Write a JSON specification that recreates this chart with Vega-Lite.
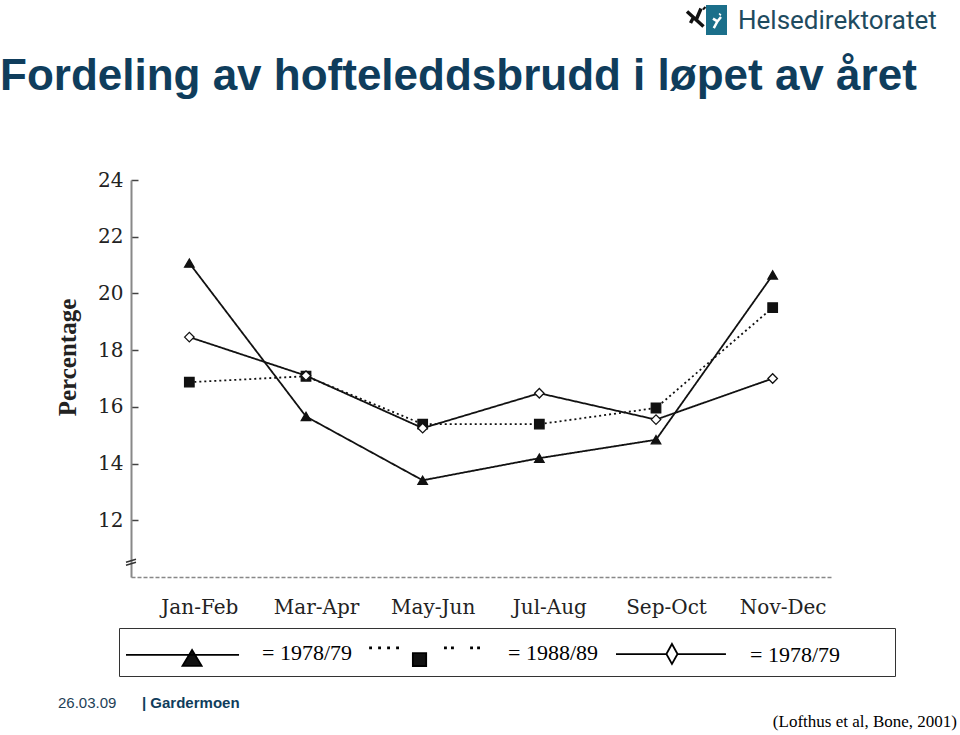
{
  "$schema": "https://vega.github.io/schema/vega-lite/v6.json",
  "width": 700,
  "height": 397,
  "autosize": {"type": "none"},
  "padding": {"left": 131, "top": 180, "right": 129, "bottom": 158},
  "background": "white",
  "config": {"view": {"stroke": null}},
  "title": {
    "text": "Fordeling av hofteleddsbrudd i løpet av året",
    "anchor": "start",
    "frame": "group",
    "font": "Liberation Sans",
    "fontSize": 44,
    "fontWeight": "bold",
    "color": "#0f3d5c",
    "baseline": "alphabetic",
    "dx": -131,
    "dy": 133,
    "offset": 0
  },
  "layer": [
    {
      "data": {
        "values": [
          {"period": "Jan-Feb", "series": "A", "pct": 21.07},
          {"period": "Mar-Apr", "series": "A", "pct": 15.66},
          {"period": "May-Jun", "series": "A", "pct": 13.41},
          {"period": "Jul-Aug", "series": "A", "pct": 14.19},
          {"period": "Sep-Oct", "series": "A", "pct": 14.84},
          {"period": "Nov-Dec", "series": "A", "pct": 20.65},
          {"period": "Jan-Feb", "series": "B", "pct": 16.87},
          {"period": "Mar-Apr", "series": "B", "pct": 17.08},
          {"period": "May-Jun", "series": "B", "pct": 15.39},
          {"period": "Jul-Aug", "series": "B", "pct": 15.39},
          {"period": "Sep-Oct", "series": "B", "pct": 15.96},
          {"period": "Nov-Dec", "series": "B", "pct": 19.5},
          {"period": "Jan-Feb", "series": "C", "pct": 18.46},
          {"period": "Mar-Apr", "series": "C", "pct": 17.1},
          {"period": "May-Jun", "series": "C", "pct": 15.25},
          {"period": "Jul-Aug", "series": "C", "pct": 16.48},
          {"period": "Sep-Oct", "series": "C", "pct": 15.55},
          {"period": "Nov-Dec", "series": "C", "pct": 17.0}
        ]
      },
      "encoding": {
        "x": {
          "field": "period",
          "type": "ordinal",
          "sort": ["Jan-Feb", "Mar-Apr", "May-Jun", "Jul-Aug", "Sep-Oct", "Nov-Dec"],
          "scale": {"type": "point", "padding": 0.5},
          "axis": {
            "title": null,
            "ticks": false,
            "domainColor": "#888",
            "domainWidth": 1.5,
            "domainDash": [4, 2],
            "labelFont": "DejaVu Serif",
            "labelFontSize": 20,
            "labelColor": "#222",
            "labelPadding": 20,
            "labelAngle": 0,
            "labelOffset": 10,
            "grid": false
          }
        },
        "y": {
          "field": "pct",
          "type": "quantitative",
          "scale": {"domain": [10, 24], "nice": false, "zero": false},
          "axis": {
            "title": "Percentage",
            "titleFont": "Liberation Serif",
            "titleFontSize": 25,
            "titleFontWeight": "bold",
            "titleColor": "#222",
            "titleX": -64,
            "titleY": 177,
            "titleAngle": -90,
            "titleAlign": "center",
            "titleBaseline": "middle",
            "values": [12, 14, 16, 18, 20, 22, 24],
            "labelFont": "DejaVu Serif",
            "labelFontSize": 20,
            "labelColor": "#222",
            "labelPadding": 15,
            "domainColor": "#888",
            "domainWidth": 2,
            "tickColor": "#444",
            "tickSize": -7,
            "tickWidth": 1.5,
            "grid": false
          }
        }
      },
      "layer": [
        {
          "mark": {"type": "line", "color": "#111", "strokeWidth": 1.8},
          "encoding": {
            "detail": {"field": "series", "type": "nominal"},
            "strokeDash": {
              "condition": {"test": "datum.series == 'B'", "value": [2, 3]},
              "value": [1, 0]
            }
          }
        },
        {
          "mark": {"type": "point", "filled": true, "stroke": "#111", "strokeWidth": 1.3, "size": 90, "opacity": 1},
          "encoding": {
            "shape": {
              "condition": [
                {"test": "datum.series == 'A'", "value": "triangle-up"},
                {"test": "datum.series == 'B'", "value": "square"}
              ],
              "value": "diamond"
            },
            "fill": {
              "field": "series",
              "type": "nominal",
              "scale": {"domain": ["A", "B", "C"], "range": ["#111", "#111", "white"]},
              "legend": {
                "orient": "none",
                "legendX": -12,
                "legendY": 448,
                "direction": "horizontal",
                "columns": 3,
                "title": null,
                "symbolSize": 1296,
                "labelFont": "Liberation Serif",
                "labelFontSize": 22,
                "labelColor": "black",
                "labelOffset": 99,
                "columnPadding": 13,
                "padding": 6,
                "strokeColor": "#333",
                "labelExpr": "datum.value == 'B' ? '= 1988/89' : datum.value == 'A' ? '= 1978/79' : '= 1978/79\u2800\u2800\u2800'",
                "encoding": {
                  "symbols": {
                    "shape": {"value": {"expr": "datum.value == 'A' ? 'M-1,0.08L5.28,0.08M2.67,-0.19L3.2,0.69L2.14,0.69Z' : datum.value == 'B' ? 'M-1.11,-0.34L-1.05,-0.34L-1.05,-0.28L-1.11,-0.28ZM-0.61,-0.34L-0.55,-0.34L-0.55,-0.28L-0.61,-0.28ZM-0.11,-0.34L-0.05,-0.34L-0.05,-0.28L-0.11,-0.28ZM0.39,-0.34L0.45,-0.34L0.45,-0.28L0.39,-0.28ZM1.27,-0.02L2.01,-0.02L2.01,0.7L1.27,0.7ZM3.05,-0.34L3.11,-0.34L3.11,-0.28L3.05,-0.28ZM3.44,-0.34L3.5,-0.34L3.5,-0.28L3.44,-0.28ZM4.5,-0.34L4.56,-0.34L4.56,-0.28L4.5,-0.28ZM4.89,-0.34L4.95,-0.34L4.95,-0.28L4.89,-0.28Z' : 'M-0.89,-0.08L1.91,-0.08M2.22,-0.64L2.53,-0.08L2.22,0.47L1.91,-0.08ZM2.53,-0.08L5.22,-0.08'"}},
                    "stroke": {"value": "black"},
                    "strokeWidth": {"value": 1.8},
                    "opacity": {"value": 1}
                  }
                }
              }
            }
          }
        }
      ]
    },
    {
      "data": {"values": [{"label": "axis break"}]},
      "mark": {"type": "point", "shape": "M-1,-0.1L1,-0.7M-1,0.5L1,-0.1", "filled": false, "stroke": "#333", "strokeWidth": 1.5, "size": 100, "opacity": 1},
      "encoding": {"x": {"value": 0}, "y": {"datum": 10.5, "type": "quantitative"}}
    },
    {
      "data": {"values": [{"label": "Helsedirektoratet"}]},
      "mark": {"type": "text", "font": "Roboto", "fontSize": 26, "color": "#1e4b5f", "align": "left", "baseline": "alphabetic"},
      "encoding": {"text": {"field": "label"}, "x": {"value": 607}, "y": {"value": -151}}
    },
    {
      "data": {"values": [{"label": "logo"}]},
      "mark": {"type": "point", "shape": "M-0.7,-1L0.7,-1L0.7,1L-0.7,1Z", "filled": true, "color": "#1b6f8a", "size": 900, "opacity": 1},
      "encoding": {"x": {"value": 585.5}, "y": {"value": -160}}
    },
    {
      "data": {"values": [{"label": "logo"}]},
      "mark": {"type": "point", "shape": "M-0.4,0.9L0.05,0.05L0.5,-0.5M0.05,0.05L-0.5,-0.3M0.3,-0.75L0.45,-0.9", "filled": false, "stroke": "white", "strokeWidth": 2.5, "size": 256, "opacity": 1},
      "encoding": {"x": {"value": 586}, "y": {"value": -159}}
    },
    {
      "data": {"values": [{"label": "logo"}]},
      "mark": {"type": "point", "shape": "M-0.9,-0.55L0.75,0.95M0.05,0.2L0.5,-0.85M-0.2,-0.05L-0.55,0.6M0.75,-0.95L0.9,-0.8", "filled": false, "stroke": "#111", "strokeWidth": 3.5, "size": 400, "opacity": 1},
      "encoding": {"x": {"value": 565}, "y": {"value": -163}}
    },
    {
      "data": {"values": [{"label": "26.03.09"}]},
      "mark": {"type": "text", "font": "Liberation Sans", "fontSize": 15, "color": "#1e3f57", "align": "left", "baseline": "alphabetic"},
      "encoding": {"text": {"field": "label"}, "x": {"value": -73}, "y": {"value": 528}}
    },
    {
      "data": {"values": [{"label": "| Gardermoen"}]},
      "mark": {"type": "text", "font": "Liberation Sans", "fontSize": 15, "fontWeight": "bold", "color": "#0f3d5c", "align": "left", "baseline": "alphabetic"},
      "encoding": {"text": {"field": "label"}, "x": {"value": 11}, "y": {"value": 528}}
    },
    {
      "data": {"values": [{"label": "(Lofthus et al, Bone, 2001)"}]},
      "mark": {"type": "text", "font": "Liberation Serif", "fontSize": 17, "color": "black", "align": "right", "baseline": "alphabetic"},
      "encoding": {"text": {"field": "label"}, "x": {"value": 826}, "y": {"value": 547}}
    }
  ]
}
